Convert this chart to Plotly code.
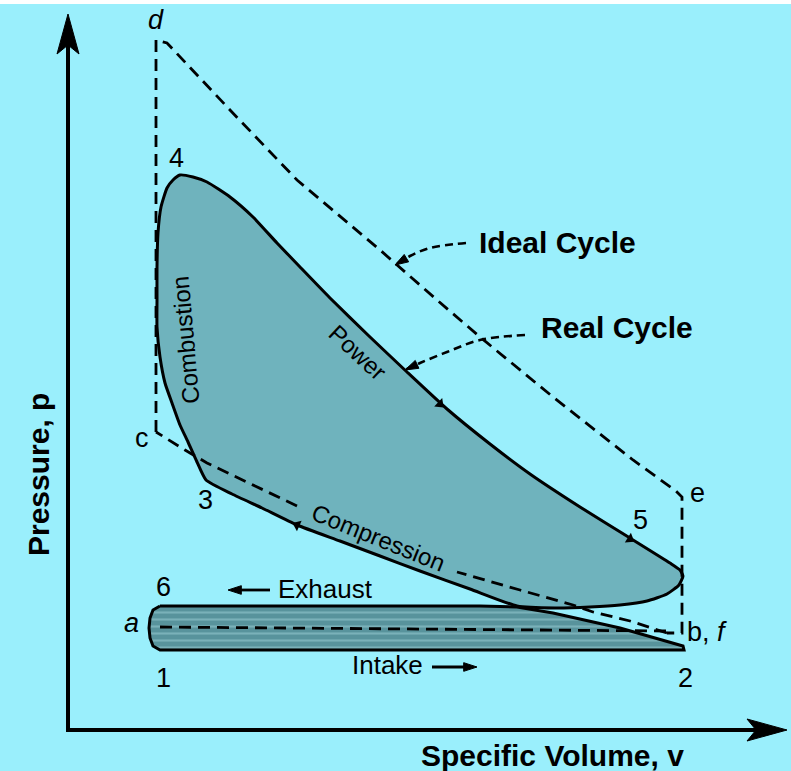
import plotly.graph_objects as go

# ---------------- data (specific volume v, pressure p; schematic units) -------------
# real cycle upper loop: 3 -> combustion -> 4 -> power -> 5 -> blow-down -> compression back to 3
real_v = [138, 129, 120, 112, 104, 97, 92, 89, 89, 89, 90, 93, 99, 105, 112, 125, 139, 162, 185, 209,
          232, 262, 302, 339, 379, 422, 462, 512, 562, 602, 612, 615, 611, 599, 579, 552, 522, 487, 449, 402,
          352, 312, 272, 229, 194, 164, 138]
real_p = [250, 268, 288, 305, 327, 347, 373, 403, 430, 463, 497, 523, 542, 550, 555, 553, 548, 533, 513, 487,
          463, 432, 393, 358, 321, 286, 256, 223, 192, 167, 160, 154, 145, 136, 129, 125, 123, 122, 124, 141,
          159, 174, 189, 205, 222, 236, 250]

# pumping loop: 6 -> exhaust ... 2 -> intake -> 1
pump_v = [92, 412, 449, 485, 552, 615, 616, 92, 85, 82, 81, 82, 85, 92]
pump_p = [124, 124, 123, 117, 102, 84, 80, 80, 84, 92, 102, 112, 120, 124]

# ideal cycle (dashed): c -> d -> e -> b
ideal_v = [88, 88, 99, 162, 229, 312, 369, 412, 485, 565, 608, 614, 614, 599]
ideal_p = [298, 690, 687, 620, 550, 480, 430, 393, 333, 270, 239, 233, 97, 97]
# ideal compression b -> c (interrupted by the "Compression" label)
ideal_comp1_v = [599, 562, 525, 505, 452, 389]
ideal_comp1_p = [97, 109, 118, 125, 140, 158]
ideal_comp2_v = [229, 192, 139, 117, 88]
ideal_comp2_p = [224, 242, 267, 280, 298]
# ideal intake / exhaust line a - b
ideal_ab_v = [92, 600]
ideal_ab_p = [103, 99]

# leader lines of the two captions
ideal_lead_v = [398, 362, 342, 327]
ideal_lead_p = [487, 482, 474, 465]
real_lead_v = [457, 412, 379, 352, 337]
real_lead_p = [395, 390, 378, 367, 360]

# direction marks along the real cycle
mark_v = [372, 229, 562]
mark_p = [326, 205, 191]
mark_angle = [134, 294, 122]

# flow arrows (tail, tip)
exhaust_arrow_v = [202, 160]
exhaust_arrow_p = [140, 140]
intake_arrow_v = [364, 409]
intake_arrow_p = [63, 63]

# state point labels
point_text = ["<i>d</i>", "4", "c", "3", "5", "e", "6", "<i>a</i>", "b, <i>f</i>", "1", "2"]
point_v = [88, 108, 74, 137, 572, 629, 95, 63, 639, 95, 617]
point_p = [710, 572, 292, 230, 210, 237, 143, 107, 98, 52, 52]

# process labels along the curves
curve_text = ["Combustion", "Power", "Compression"]
curve_v = [117, 290, 310]
curve_p = [390, 378, 193]
curve_angle = [-95, 43, 22]

flow_text = ["Exhaust", "Intake"]
flow_v = [257, 319]
flow_p = [141, 65]

caption_text = ["Ideal Cycle", "Real Cycle"]
caption_v = [489, 549]
caption_p = [488, 403]

# axes of the diagram (origin at v=0, p=0) and their titles
v_axis_end = 719
p_axis_end = 716
axis_x_title = "Specific Volume, v"
axis_x_title_pos = [484, -25]
axis_y_title = "Pressure, p"
axis_y_title_pos = [-30, 255]

# visible window around the diagram
v_range = [-68, 723]
p_range = [-41, 730]

# ---------------- styles ----------------
BG = "#9AEFFC"
FILL_REAL = "#6FB3BD"
FILL_PUMP = "#58939C"
INK = "black"
FONT = "Liberation Sans, Arial, sans-serif"
DASH = "12px,7px"
HEAD_LEN, HEAD_HW, HEAD_NOTCH = 40, 11, 9

fig = go.Figure()

# axes
fig.add_trace(go.Scatter(x=[0, 0, v_axis_end - 20], y=[p_axis_end - 20, 0, 0], mode="lines",
                         line=dict(color=INK, width=4), hoverinfo="skip"))
vt, pt = 0, p_axis_end
fig.add_trace(go.Scatter(
    x=[vt, vt - HEAD_HW, vt, vt + HEAD_HW, vt],
    y=[pt, pt - HEAD_LEN, pt - HEAD_LEN + HEAD_NOTCH, pt - HEAD_LEN, pt],
    mode="lines", fill="toself", fillcolor=INK, line=dict(color=INK, width=1), hoverinfo="skip"))
vt, pt = v_axis_end, 0
fig.add_trace(go.Scatter(
    x=[vt, vt - HEAD_LEN, vt - HEAD_LEN + HEAD_NOTCH, vt - HEAD_LEN, vt],
    y=[pt, pt + HEAD_HW, pt, pt - HEAD_HW, pt],
    mode="lines", fill="toself", fillcolor=INK, line=dict(color=INK, width=1), hoverinfo="skip"))

fig.add_trace(go.Scatter(x=pump_v, y=pump_p, mode="lines", fill="toself",
                         fillcolor=FILL_PUMP,
                         fillpattern=dict(shape="-", fgcolor="#9CCFD6", bgcolor=FILL_PUMP,
                                          size=7, solidity=0.3),
                         line=dict(color=INK, width=3), hoverinfo="skip"))
fig.add_trace(go.Scatter(x=real_v, y=real_p, mode="lines", fill="toself", fillcolor=FILL_REAL,
                         line=dict(color=INK, width=3, shape="spline", smoothing=0.5),
                         hoverinfo="skip"))

for xs, ys in [(ideal_v, ideal_p), (ideal_comp1_v, ideal_comp1_p),
               (ideal_comp2_v, ideal_comp2_p), (ideal_ab_v, ideal_ab_p)]:
    fig.add_trace(go.Scatter(x=xs, y=ys, mode="lines",
                             line=dict(color=INK, width=2.8, dash=DASH), hoverinfo="skip"))

arrow_marker = dict(symbol="arrow", angleref="previous", color=INK, opacity=1,
                    line=dict(color=INK, width=1))

for xs, ys in [(ideal_lead_v, ideal_lead_p), (real_lead_v, real_lead_p)]:
    fig.add_trace(go.Scatter(x=xs, y=ys, mode="lines+markers",
                             line=dict(color=INK, width=2.6, dash="8px,5px", shape="spline"),
                             marker=dict(arrow_marker, size=[0] * (len(xs) - 1) + [14]),
                             hoverinfo="skip"))

fig.add_trace(go.Scatter(x=mark_v, y=mark_p, mode="markers",
                         marker=dict(symbol="triangle-up", size=10, angle=mark_angle, color=INK),
                         hoverinfo="skip"))

# flow arrows
for xs, ys in [(exhaust_arrow_v, exhaust_arrow_p), (intake_arrow_v, intake_arrow_p)]:
    fig.add_trace(go.Scatter(x=xs, y=ys, mode="lines+markers",
                             line=dict(color=INK, width=2.8),
                             marker=dict(arrow_marker, size=[0, 14]),
                             hoverinfo="skip"))

ann = []
for t, x, y in zip(point_text, point_v, point_p):
    ann.append(dict(text=t, x=x, y=y, showarrow=False, font=dict(size=27, color=INK)))
for t, x, y, a in zip(curve_text, curve_v, curve_p, curve_angle):
    ann.append(dict(text=t, x=x, y=y, textangle=a, showarrow=False, font=dict(size=24, color=INK)))
for t, x, y in zip(flow_text, flow_v, flow_p):
    ann.append(dict(text=t, x=x, y=y, showarrow=False, font=dict(size=26, color=INK)))
for t, x, y in zip(caption_text, caption_v, caption_p):
    ann.append(dict(text="<b>%s</b>" % t, x=x, y=y, showarrow=False, font=dict(size=30, color=INK)))
ann.append(dict(text="<b>%s</b>" % axis_x_title, x=axis_x_title_pos[0], y=axis_x_title_pos[1],
                showarrow=False, font=dict(size=30, color=INK)))
ann.append(dict(text="<b>%s</b>" % axis_y_title, x=axis_y_title_pos[0], y=axis_y_title_pos[1],
                textangle=-90, showarrow=False, font=dict(size=30, color=INK)))
for a in ann:
    a.update(xref="x", yref="y", xanchor="center", yanchor="middle")

fig.update_layout(
    width=791, height=771,
    margin=dict(l=0, r=0, t=0, b=0),
    paper_bgcolor=BG, plot_bgcolor=BG,
    font=dict(family=FONT, color=INK),
    showlegend=False,
    annotations=ann,
    shapes=[dict(type="rect", xref="paper", yref="paper", x0=0, x1=1,
                 y0=1 - 4 / 771, y1=1, fillcolor="white", line=dict(width=0),
                 layer="below")],
    xaxis=dict(range=v_range, visible=False, fixedrange=True),
    yaxis=dict(range=p_range, visible=False, fixedrange=True),
)

fig.write_html("out.html", config={"displayModeBar": False},
               post_script="document.body.style.margin='0';document.body.style.overflow='hidden';")
